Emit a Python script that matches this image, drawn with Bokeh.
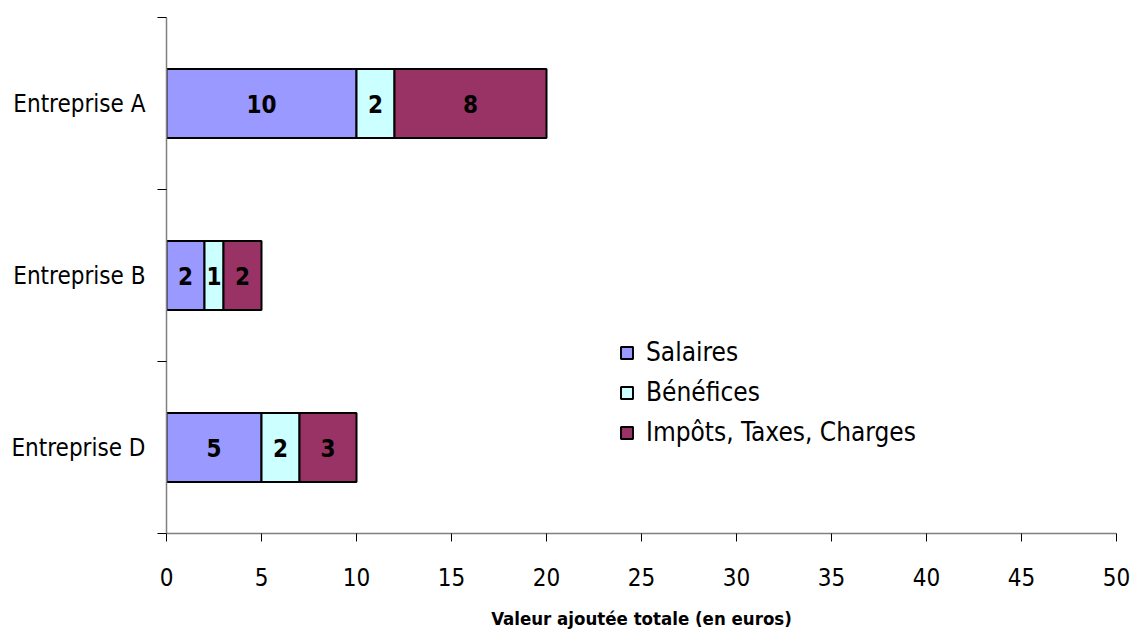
from bokeh.plotting import figure
from bokeh.models import ColumnDataSource, FixedTicker, Range1d
from bokeh.embed import file_html
from bokeh.resources import INLINE
from bokeh.core.properties import value

categories = ["Entreprise A", "Entreprise B", "Entreprise D"]
salaires = [10, 2, 5]
benefices = [2, 1, 2]
impots = [8, 2, 3]
series_names = ["Salaires", "Bénéfices", "Impôts, Taxes, Charges"]
colors = ["#9999FF", "#CCFFFF", "#993366"]
x_ticks = list(range(0, 51, 5))
x_title = "Valeur ajoutée totale (en euros)"

FONT = "DejaVu Sans Condensed"

n = len(categories)
ypos = [n - i - 0.5 for i in range(n)]
src = ColumnDataSource(dict(y=ypos, s=salaires, b=benefices, t=impots))

p = figure(width=1131, height=632, x_range=Range1d(0, 50), y_range=Range1d(0, n),
           output_backend="svg", toolbar_location=None,
           min_border_left=166, min_border_right=15, min_border_top=17, min_border_bottom=99)
p.xgrid.visible = False
p.ygrid.visible = False
p.outline_line_color = None

p.hbar_stack(["s", "b", "t"], y="y", height=0.4, fill_color=colors, line_color="black",
             line_width=2, source=src, legend_label=series_names)

# value labels in the middle of each segment
lx, ly, lt = [], [], []
for i in range(n):
    left = 0
    for arr in (salaires, benefices, impots):
        v = arr[i]
        lx.append(left + v / 2)
        ly.append(ypos[i])
        lt.append(str(v))
        left += v
p.text(x=lx, y=ly, text=lt, text_align="center", text_baseline="middle",
       text_font=value(FONT), text_font_style="bold", text_font_size="24px", text_color="black")

# x axis
xa = p.xaxis[0]
xa.ticker = FixedTicker(ticks=x_ticks, minor_ticks=[])
xa.axis_line_color = "#808080"
xa.axis_line_width = 1.5
xa.major_tick_line_color = "black"
xa.major_tick_out = 8
xa.major_tick_in = 0
xa.minor_tick_line_color = None
xa.major_label_text_font = FONT
xa.major_label_text_font_size = "24px"
xa.major_label_text_color = "black"
xa.major_label_standoff = 26
xa.axis_label = x_title
xa.axis_label_text_font = FONT
xa.axis_label_text_font_style = "bold"
xa.axis_label_text_font_size = "18.5px"
xa.axis_label_text_color = "black"
xa.axis_label_standoff = 19

# y axis
ya = p.yaxis[0]
ya.ticker = FixedTicker(ticks=ypos, minor_ticks=list(range(0, n + 1)))
ya.major_label_overrides = {y: c for y, c in zip(ypos, categories)}
ya.axis_line_color = "#808080"
ya.axis_line_width = 1.5
ya.major_tick_line_color = None
ya.major_tick_out = 0
ya.major_tick_in = 0
ya.minor_tick_line_color = "black"
ya.minor_tick_out = 9
ya.minor_tick_in = 0
ya.major_label_text_font = FONT
ya.major_label_text_font_size = "24px"
ya.major_label_text_color = "black"
ya.major_label_standoff = 12

lg = p.legend[0]
lg.location = (453, 86)
lg.background_fill_alpha = 0
lg.border_line_color = None
lg.padding = 0
lg.margin = 0
lg.glyph_width = 15
lg.glyph_height = 15
lg.label_text_font = FONT
lg.label_text_font_size = "26px"
lg.label_text_color = "black"
lg.label_standoff = 12
lg.spacing = 10

open("out.html", "w").write(file_html(p, INLINE))
